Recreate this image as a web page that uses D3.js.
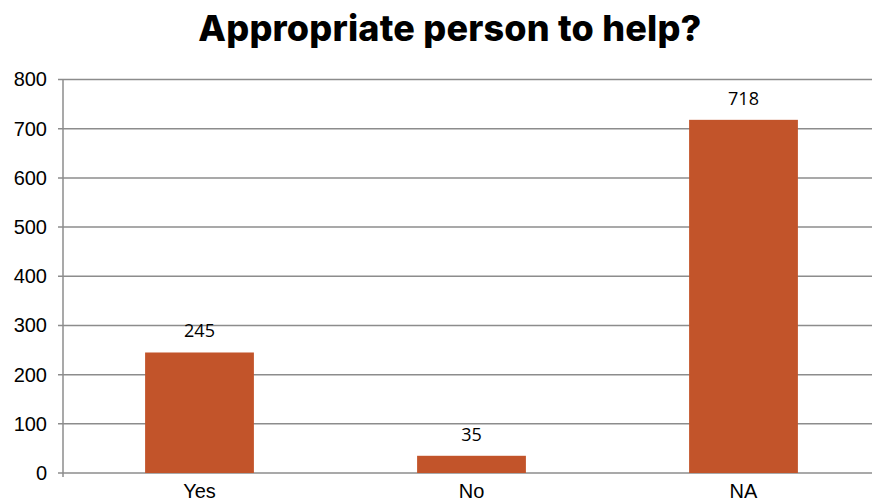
<!DOCTYPE html>
<html><head><meta charset="utf-8">
<script src="https://cdn.jsdelivr.net/npm/d3@7"></script>
<style>body{margin:0;background:#fff;}svg{display:block;}</style>
</head><body>
<svg id="c" width="872" height="501"></svg>
<script>
const categories = ["Yes", "No", "NA"];
const values = [245, 35, 718];
const yTicks = [0, 100, 200, 300, 400, 500, 600, 700, 800];
const title = "Appropriate person to help?";

(function () {
const svg = d3.select("#c");
const mLeft = 63, mRight = 872, mTop = 79.5, mBottom = 473;
const x = d3.scaleBand().domain(categories).range([63.5, 879.5]).paddingInner(0.6).paddingOuter(0.3);
const y = d3.scaleLinear().domain([0, 800]).range([mBottom, mTop]);

svg.append("text").attr("x", 450).attr("y", 41).attr("text-anchor", "middle")
  .attr("font-family", "Inter, 'Liberation Sans', sans-serif").attr("font-weight", 800)
  .attr("font-size", 36).attr("letter-spacing", 0.2).attr("fill", "#000").text(title);

svg.append("g").selectAll("line").data(yTicks).join("line")
  .attr("x1", mLeft - 5).attr("x2", mRight).attr("y1", d => y(d)).attr("y2", d => y(d))
  .attr("stroke", "#8c8c8c").attr("stroke-width", 1.5);

svg.append("line").attr("x1", mLeft).attr("x2", mLeft).attr("y1", mTop).attr("y2", mBottom + 4)
  .attr("stroke", "#8c8c8c").attr("stroke-width", 1.5);

const yAxis = d3.axisLeft(y).tickValues(yTicks).tickSize(0).tickPadding(16);
const yg = svg.append("g").attr("transform", `translate(${mLeft},0)`).call(yAxis);
yg.select(".domain").remove();
yg.selectAll("text").attr("font-family", "'Liberation Sans', Helvetica, Arial, sans-serif")
  .attr("font-size", 20).attr("fill", "#000");

svg.append("g").selectAll("rect").data(values).join("rect")
  .attr("x", (d, i) => x(categories[i])).attr("width", x.bandwidth())
  .attr("y", d => y(d)).attr("height", d => y(0) - y(d)).attr("fill", "#C2542A");

svg.append("g").selectAll("text").data(values).join("text")
  .attr("x", (d, i) => x(categories[i]) + x.bandwidth() / 2).attr("y", d => y(d) - 15)
  .attr("text-anchor", "middle").attr("font-family", "'Open Sans', sans-serif")
  .attr("font-size", 18).attr("fill", "#000").text(d => d);

const xAxis = d3.axisBottom(x).tickSize(0).tickPadding(11);
const xg = svg.append("g").attr("transform", `translate(0,${mBottom})`).call(xAxis);
xg.select(".domain").remove();
xg.selectAll("text").attr("font-family", "'Liberation Sans', Helvetica, Arial, sans-serif")
  .attr("font-size", 20).attr("fill", "#000");
})();
</script>
</body></html>
